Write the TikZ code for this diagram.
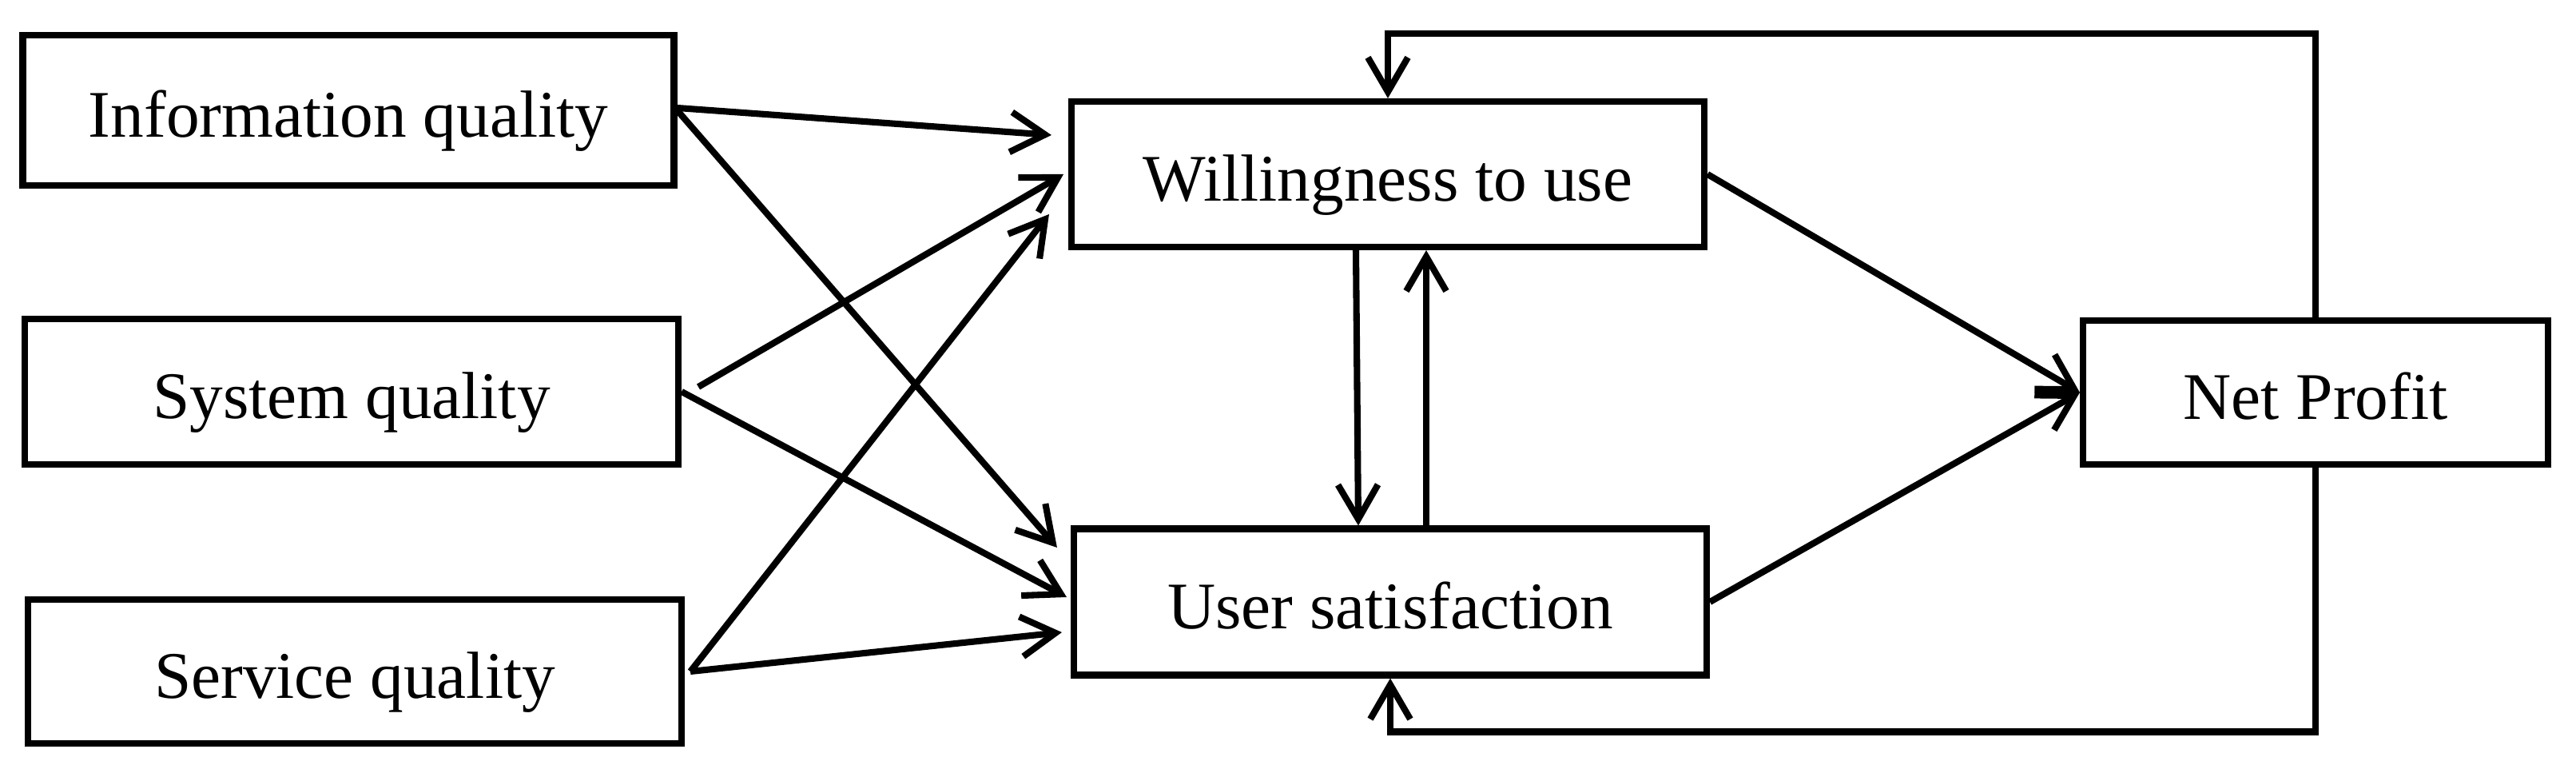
\documentclass[tikz,border=0pt]{standalone}
\usepackage{fontspec}
\setmainfont{Liberation Serif}
\usepackage{tikz}
\usetikzlibrary{arrows.meta}

\begin{document}
\begin{tikzpicture}[
    box/.style={draw, line width=2.3pt, inner sep=0pt, text height=19pt, text depth=0pt,
      font=\fontsize{23.7}{28}\selectfont},
    arr/.style={line width=2.3pt, -{Straight Barb[length=4.3mm,width=5mm]}}
  ]
  \useasboundingbox (0,0) rectangle (32.24,-9.77);
  \node[box, minimum width=8.15cm, minimum height=1.88cm] (info) at (4.36,-1.38) {Information quality};
  \node[box, minimum width=8.18cm, minimum height=1.82cm] (sys) at (4.40,-4.90) {System quality};
  \node[box, minimum width=8.18cm, minimum height=1.80cm] (serv) at (4.44,-8.40) {Service quality};
  \node[box, minimum width=7.92cm, minimum height=1.82cm] (will) at (17.37,-2.18) {Willingness to use};
  \node[box, minimum width=7.92cm, minimum height=1.83cm] (user) at (17.40,-7.53) {User satisfaction};
  \node[box, minimum width=5.82cm, minimum height=1.80cm] (np) at (28.98,-4.91) {Net Profit};

  \draw[arr] ([yshift=0.03cm]info.east) -- ([xshift=-0.21cm,yshift=0.49cm]will.west);
  \draw[arr] (info.east) -- ([xshift=-0.17cm,yshift=0.68cm]user.west);
  \draw[arr] ([xshift=0.21cm,yshift=0.06cm]sys.east) -- ([xshift=-0.06cm]will.west);
  \draw[arr] (sys.east) -- ([xshift=-0.05cm,yshift=0.06cm]user.west);
  \draw[arr] ([xshift=0.07cm]serv.east) -- ([xshift=-0.24cm,yshift=-0.5cm]will.west);
  \draw[arr] ([xshift=0.07cm]serv.east) -- ([xshift=-0.11cm,yshift=-0.38cm]user.west);

  \draw[arr] ([xshift=-0.40cm]will.south) -- ([xshift=-0.40cm]user.north);
  \draw[arr] ([xshift=0.45cm]user.north) -- ([xshift=0.48cm]will.south);

  \draw[arr] (will.east) -- (np.west);
  \draw[arr] (user.east) -- (np.west);

  \draw[arr] (np.north) |- ([yshift=0.81cm]will.north) -- (will.north);
  \draw[arr] (np.south) |- ([yshift=-0.67cm]user.south) -- (user.south);
\end{tikzpicture}
\end{document}
